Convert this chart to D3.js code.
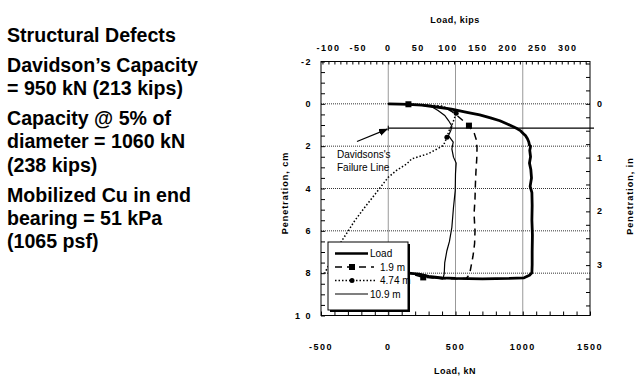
<!DOCTYPE html>
<html>
<head>
<meta charset="utf-8">
<script src="https://cdn.jsdelivr.net/npm/d3@7"></script>
<style>
  body { margin: 0; background: #fff; }
  svg { display: block; }
</style>
</head>
<body>
<svg id="chart" width="644" height="385"></svg>
<script>
// notes on the left
const notes = [
  ["Structural Defects"],
  ["Davidson\u2019s Capacity", "= 950 kN (213 kips)"],
  ["Capacity @ 5% of", "diameter = 1060 kN", "(238 kips)"],
  ["Mobilized Cu in end", "bearing = 51 kPa", "(1065 psf)"]
];

// load (kN) vs penetration (cm)
const loadCurve = [[0,0],[80,0.01],[150,0.03],[250,0.06],[360,0.15],[470,0.25],[585,0.4],[680,0.52],[760,0.66],
  [830,0.8],[885,0.95],[930,1.08],[960,1.18],[985,1.28],[1007,1.42],[1020,1.5],[1035,1.65],[1045,1.8],
  [1050,1.95],[1058,2.0],[1052,2.2],[1058,2.5],[1050,2.8],[1060,3.1],[1065,3.5],[1055,3.9],[1068,4.2],
  [1070,4.8],[1068,5.5],[1072,6.2],[1070,7.0],[1070,7.6],[1068,7.98],[1050,8.1],[1010,8.22],[900,8.25],
  [700,8.27],[500,8.25],[400,8.22],[300,8.15],[230,8.05],[150,8.0]];
const curve19 = [[0,0],[150,0.02],[300,0.08],[420,0.18],[470,0.35],[520,0.6],[600,1.03],[640,1.4],[655,1.7],
  [660,2.1],[658,2.6],[652,3.2],[648,3.8],[645,4.5],[638,5.2],[645,6.0],[642,6.6],[630,7.2],[615,7.7],
  [605,8.05],[580,8.25],[450,8.27],[260,8.2],[150,8.0]];
const marks19 = [[150,0.02],[600,1.03],[260,8.2]];
const curve474 = [[0,0],[200,0.03],[400,0.1],[470,0.3],[505,0.44],[480,0.9],[450,1.3],[436,1.58],[410,1.97],
  [300,2.35],[175,2.6],[137,2.84],[60,3.15],[0,3.47],[-87,4.18],[-170,4.85],[-249,5.52],[-360,6.62],[-473,8.0]];
const marks474 = [[505,0.44],[436,1.58]];
const curve109 = [[0,0],[200,0.04],[320,0.12],[370,0.32],[420,0.55],[448,0.79],[473,1.05],[465,1.26],[448,1.5],
  [483,1.81],[473,2.13],[485,2.52],[505,2.8],[500,3.3],[498,4.1],[485,4.9],[473,5.83],[455,6.5],[436,6.94],
  [420,7.5],[416,8.04],[405,8.28],[300,8.2],[200,8.05],[150,8.0]];
const failureLine = [[0,1.15],[1530,1.15]];

const kNTicks = [-500, 0, 500, 1000, 1500];
const kipTicks = [-100, -50, 0, 50, 100, 150, 200, 250, 300];
const cmTicks = [-2, 0, 2, 4, 6, 8, 10];
const inTicks = [0, 1, 2, 3];
const legendItems = ["Load", "1.9 m", "4.74 m", "10.9 m"];

const svg = d3.select("#chart");
const KIP = 4.448, INCH = 2.54;

const x = d3.scaleLinear().domain([-500, 1500]).range([321, 590]);
const xk = d3.scaleLinear().domain([-500 / KIP, 1500 / KIP]).range([321, 590]);
const y = d3.scaleLinear().domain([-2, 10]).range([61.5, 315.5]);
const yi = d3.scaleLinear().domain([-2 / INCH, 10 / INCH]).range([61.5, 315.5]);

const font = "'Liberation Sans', Arial, sans-serif";

// left text
let ty = 41.7;
notes.forEach((para, pi) => {
  if (pi > 0) ty += 30;
  para.forEach((ln, li) => {
    if (li > 0) ty += 23.3;
    svg.append("text").attr("x", 7).attr("y", ty).text(ln)
      .style("font-family", font).style("font-weight", "bold").style("font-size", "19.6px").style("fill", "#000");
  });
});

// gridlines
const grid = svg.append("g").attr("stroke", "#333").attr("stroke-width", 1).attr("stroke-dasharray", "1,1");
[0, 500, 1000].forEach(v => grid.append("line").attr("x1", x(v)).attr("x2", x(v)).attr("y1", y(-2)).attr("y2", y(10)));
[0, 2, 4, 6, 8].forEach(v => grid.append("line").attr("x1", x(-500)).attr("x2", x(1500)).attr("y1", y(v)).attr("y2", y(v)));

// axes, ticks pointing inward
svg.append("g").attr("transform", `translate(0,${y(10)})`)
  .call(d3.axisTop(x).tickValues(d3.range(-500, 1501, 100)).tickSize(4).tickFormat(""))
  .call(g => g.select(".domain").remove());
svg.append("g").attr("transform", `translate(0,${y(-2)})`)
  .call(d3.axisBottom(xk).tickValues(d3.range(-110, 331, 10)).tickSize(3).tickFormat(""))
  .call(g => g.select(".domain").remove());
svg.append("g").attr("transform", `translate(${x(-500)},0)`)
  .call(d3.axisRight(y).tickValues(d3.range(-2, 10.01, 0.5)).tickSize(4).tickFormat(""))
  .call(g => g.select(".domain").remove());
svg.append("g").attr("transform", `translate(${x(1500)},0)`)
  .call(d3.axisLeft(yi).tickValues(d3.range(-0.75, 3.9, 0.25)).tickSize(4).tickFormat(""))
  .call(g => g.select(".domain").remove());

svg.append("rect").attr("x", x(-500)).attr("y", y(-2)).attr("width", x(1500) - x(-500)).attr("height", y(10) - y(-2))
  .attr("fill", "none").attr("stroke", "#000").attr("stroke-width", 1);

// tick labels
const lbl = (sel) => sel.style("font-family", font).style("font-size", "9px").style("font-weight", "bold")
  .style("letter-spacing", "1.5px").style("fill", "#000");
kNTicks.forEach(v => lbl(svg.append("text").attr("x", x(v)).attr("y", 350).attr("text-anchor", "middle").text(v)));
kipTicks.forEach(v => lbl(svg.append("text").attr("x", xk(v)).attr("y", 51).attr("text-anchor", "middle").text(v)));
cmTicks.forEach(v => lbl(svg.append("text").attr("x", 312).attr("y", y(v) + 3).attr("text-anchor", "end").text(v === 10 ? "1 0" : v)));
inTicks.forEach(v => lbl(svg.append("text").attr("x", 597).attr("y", yi(v) + 3).text(v)));

const title = (sel, ls) => sel.style("font-family", font).style("font-size", "9px").style("font-weight", "bold")
  .style("letter-spacing", ls).style("fill", "#000");
title(svg.append("text").attr("x", 455).attr("y", 23).attr("text-anchor", "middle").text("Load,  kips"), "0.5px");
title(svg.append("text").attr("x", 455).attr("y", 374).attr("text-anchor", "middle").text("Load,  kN"), "0.5px");
title(svg.append("text").attr("transform", "translate(288,193) rotate(-90)").attr("text-anchor", "middle").text("Penetration,  cm"), "1px");
title(svg.append("text").attr("transform", "translate(633,196) rotate(-90)").attr("text-anchor", "middle").text("Penetration,  in"), "1px");

// curves
const line = d3.line().x(d => x(d[0])).y(d => y(d[1]));
svg.append("path").datum(curve474).attr("d", line).attr("fill", "none").attr("stroke", "#000")
  .attr("stroke-width", 1.5).attr("stroke-dasharray", "1.5,2");
svg.append("path").datum(curve19).attr("d", line).attr("fill", "none").attr("stroke", "#000")
  .attr("stroke-width", 1.5).attr("stroke-dasharray", "7,5");
svg.append("path").datum(curve109).attr("d", line).attr("fill", "none").attr("stroke", "#000").attr("stroke-width", 1.2);
svg.append("path").datum(loadCurve).attr("d", line).attr("fill", "none").attr("stroke", "#000")
  .attr("stroke-width", 2.8).attr("stroke-linejoin", "round");
svg.append("path").datum(failureLine).attr("d", line).attr("fill", "none").attr("stroke", "#000").attr("stroke-width", 1.2);
svg.append("line").attr("x1", x(0)).attr("x2", x(0)).attr("y1", y(1.15) - 2.5).attr("y2", y(1.15) + 2.5).attr("stroke", "#000");

marks19.forEach(d => svg.append("rect").attr("x", x(d[0]) - 3).attr("y", y(d[1]) - 3).attr("width", 6).attr("height", 6).attr("fill", "#000"));
marks474.forEach(d => svg.append("circle").attr("cx", x(d[0])).attr("cy", y(d[1])).attr("r", 2.5).attr("fill", "#000"));

// annotation
svg.append("defs").append("marker").attr("id", "arr").attr("viewBox", "0 0 10 10").attr("refX", 9).attr("refY", 5)
  .attr("markerWidth", 7).attr("markerHeight", 7).attr("orient", "auto")
  .append("path").attr("d", "M0,1 L10,5 L0,9 Z").attr("fill", "#000");
svg.append("line").attr("x1", 357).attr("y1", 141.5).attr("x2", x(0) - 1).attr("y2", y(1.15) + 1)
  .attr("stroke", "#000").attr("stroke-width", 1.3).attr("marker-end", "url(#arr)");
const ann = (t, yy) => svg.append("text").attr("x", 337).attr("y", yy).text(t)
  .style("font-family", font).style("font-size", "10px").style("fill", "#000");
ann("Davidsons's", 158);
ann("Failure Line", 171);

// legend
const lg = svg.append("g");
lg.append("rect").attr("x", 330).attr("y", 244).attr("width", 80).attr("height", 68).attr("fill", "#000");
lg.append("rect").attr("x", 328).attr("y", 242).attr("width", 80).attr("height", 68).attr("fill", "#fff")
  .attr("stroke", "#000").attr("stroke-width", 1);
const ly = [253.5, 267, 280.5, 294];
const lstyle = [
  { w: 2.5, dash: null, x2: 368 },
  { w: 1.5, dash: "7,5", x2: 374 },
  { w: 1.5, dash: "1.5,2", x2: 376 },
  { w: 1.2, dash: null, x2: 368 }
];
legendItems.forEach((t, i) => {
  const s = lstyle[i];
  const l = lg.append("line").attr("x1", 335).attr("x2", s.x2).attr("y1", ly[i]).attr("y2", ly[i])
    .attr("stroke", "#000").attr("stroke-width", s.w);
  if (s.dash) l.attr("stroke-dasharray", s.dash);
  lg.append("text").attr("x", i === 1 || i === 2 ? 380 : 370).attr("y", ly[i] + 3.5).text(t)
    .style("font-family", font).style("font-size", "10px").style("fill", "#000");
});
lg.append("rect").attr("x", 349).attr("y", ly[1] - 3).attr("width", 6).attr("height", 6).attr("fill", "#000");
lg.append("circle").attr("cx", 352).attr("cy", ly[2]).attr("r", 2.5).attr("fill", "#000");
</script>
</body>
</html>
